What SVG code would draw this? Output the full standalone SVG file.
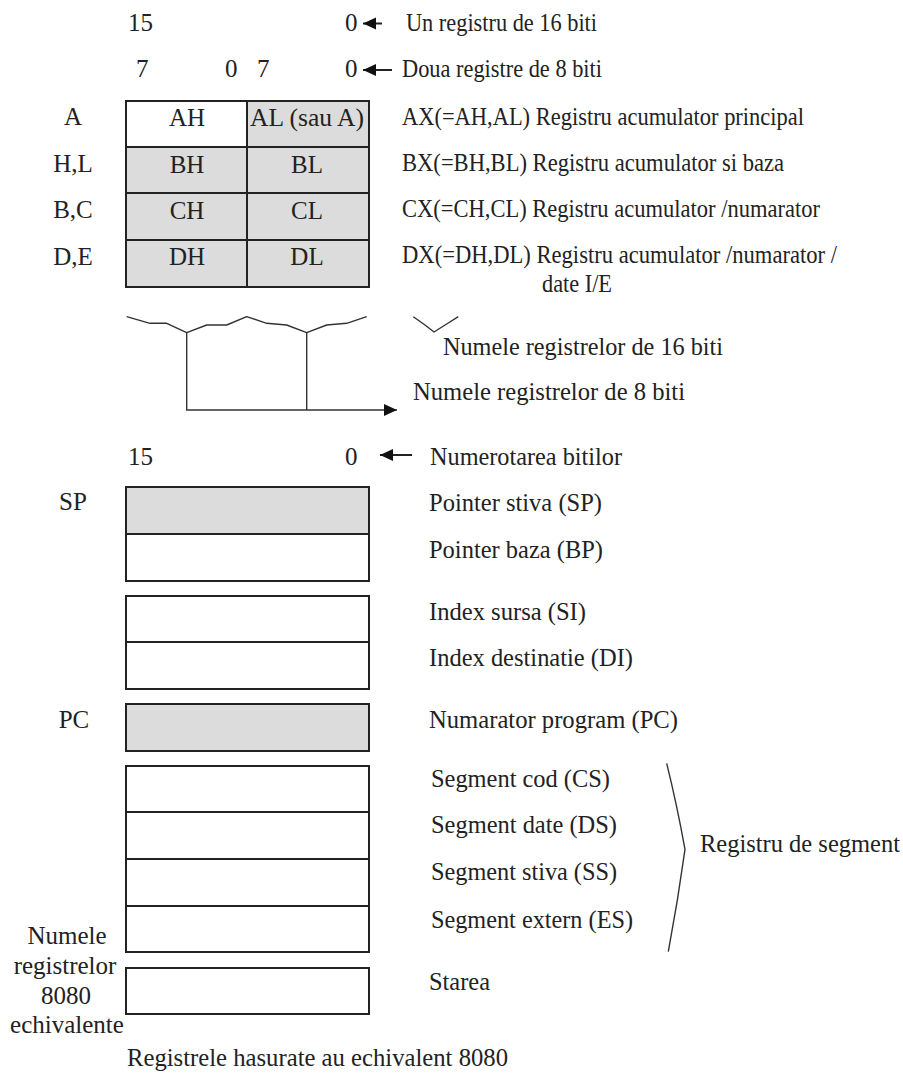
<svg xmlns="http://www.w3.org/2000/svg" width="903" height="1074" viewBox="0 0 903 1074">
<style>
text{font-family:"Liberation Serif","Times New Roman",serif;font-size:25px;fill:#222}
.c{text-anchor:middle}
.box{stroke:#222;stroke-width:2}
.g{fill:#dcdcdc}
.w{fill:#fff}
.ln{fill:none;stroke:#222;stroke-width:2}
.th{fill:none;stroke:#333;stroke-width:1.4;stroke-linejoin:round}
</style>
<defs>
<marker id="ah" viewBox="0 0 13 13" refX="13" refY="6.5" markerWidth="13" markerHeight="13" markerUnits="userSpaceOnUse" orient="auto">
<path d="M0,0.5 L13,6.5 L0,12.5 Z" fill="#111"/>
</marker>
</defs>
<rect width="903" height="1074" fill="#fff"/>

<g id="bit-header">
<text x="128" y="31">15</text>
<text x="345" y="31">0</text>
<text x="406" y="31" textLength="191" lengthAdjust="spacingAndGlyphs">Un registru de 16 biti</text>
<text x="136" y="77">7</text>
<text x="225" y="77">0</text>
<text x="257" y="77">7</text>
<text x="345" y="77">0</text>
<text x="402" y="77" textLength="200" lengthAdjust="spacingAndGlyphs">Doua registre de 8 biti</text>
</g>

<g id="general-registers">
<rect class="box w" x="126" y="101" width="121" height="46"/>
<rect class="box g" x="247" y="101" width="122" height="46"/>
<rect class="box g" x="126" y="147" width="121" height="46"/>
<rect class="box g" x="247" y="147" width="122" height="46"/>
<rect class="box g" x="126" y="193" width="121" height="47"/>
<rect class="box g" x="247" y="193" width="122" height="47"/>
<rect class="box g" x="126" y="240" width="121" height="47"/>
<rect class="box g" x="247" y="240" width="122" height="47"/>
<text class="c" x="187" y="126">AH</text>
<text class="c" x="307" y="126" textLength="114" lengthAdjust="spacingAndGlyphs">AL (sau A)</text>
<text class="c" x="187" y="173">BH</text>
<text class="c" x="307" y="173">BL</text>
<text class="c" x="187" y="219">CH</text>
<text class="c" x="307" y="219">CL</text>
<text class="c" x="187" y="265">DH</text>
<text class="c" x="307" y="265">DL</text>
</g>

<g id="labels-8080-top">
<text class="c" x="73" y="125">A</text>
<text class="c" x="73" y="172">H,L</text>
<text class="c" x="73" y="218">B,C</text>
<text class="c" x="73" y="265">D,E</text>
</g>

<g id="general-descriptions">
<text x="402" y="125" textLength="402" lengthAdjust="spacingAndGlyphs">AX(=AH,AL) Registru acumulator principal</text>
<text x="402" y="171" textLength="382" lengthAdjust="spacingAndGlyphs">BX(=BH,BL) Registru acumulator si baza</text>
<text x="402" y="217" textLength="418" lengthAdjust="spacingAndGlyphs">CX(=CH,CL) Registru acumulator /numarator</text>
<text x="402" y="263" textLength="435" lengthAdjust="spacingAndGlyphs">DX(=DH,DL) Registru acumulator /numarator /</text>
<text x="542" y="292" textLength="70" lengthAdjust="spacingAndGlyphs">date I/E</text>
</g>

<g id="name-legend">
<text x="443" y="355" textLength="280" lengthAdjust="spacingAndGlyphs">Numele registrelor de 16 biti</text>
<text x="413" y="400" textLength="272" lengthAdjust="spacingAndGlyphs">Numele registrelor de 8 biti</text>
<text x="128" y="465">15</text>
<text x="345" y="465">0</text>
<text x="430" y="465" textLength="192" lengthAdjust="spacingAndGlyphs">Numerotarea bitilor</text>
</g>

<g id="pointer-registers">
<rect class="box g" x="126" y="487" width="243" height="47"/>
<rect class="box w" x="126" y="534" width="243" height="47"/>
<rect class="box w" x="126" y="596" width="243" height="46"/>
<rect class="box w" x="126" y="642" width="243" height="47"/>
<rect class="box g" x="126" y="704" width="243" height="47"/>
<text class="c" x="73" y="510">SP</text>
<text class="c" x="74" y="728">PC</text>
<text x="429" y="511" textLength="173" lengthAdjust="spacingAndGlyphs">Pointer stiva (SP)</text>
<text x="429" y="558" textLength="174" lengthAdjust="spacingAndGlyphs">Pointer baza (BP)</text>
<text x="429" y="620" textLength="157" lengthAdjust="spacingAndGlyphs">Index sursa (SI)</text>
<text x="429" y="666" textLength="204" lengthAdjust="spacingAndGlyphs">Index destinatie (DI)</text>
<text x="429" y="728" textLength="249" lengthAdjust="spacingAndGlyphs">Numarator program (PC)</text>
</g>

<g id="segment-registers">
<rect class="box w" x="126" y="766" width="243" height="46"/>
<rect class="box w" x="126" y="812" width="243" height="47"/>
<rect class="box w" x="126" y="859" width="243" height="47"/>
<rect class="box w" x="126" y="906" width="243" height="46"/>
<text x="431" y="787" textLength="179" lengthAdjust="spacingAndGlyphs">Segment cod (CS)</text>
<text x="431" y="833" textLength="186" lengthAdjust="spacingAndGlyphs">Segment date (DS)</text>
<text x="431" y="880" textLength="186" lengthAdjust="spacingAndGlyphs">Segment stiva (SS)</text>
<text x="431" y="928" textLength="202" lengthAdjust="spacingAndGlyphs">Segment extern (ES)</text>
<text x="700" y="852" textLength="200" lengthAdjust="spacingAndGlyphs">Registru de segment</text>
</g>

<g id="status-register">
<rect class="box w" x="126" y="968" width="243" height="46"/>
<text x="429" y="990" textLength="61" lengthAdjust="spacingAndGlyphs">Starea</text>
</g>

<g id="left-note">
<text class="c" x="67" y="944">Numele</text>
<text class="c" x="65" y="974">registrelor</text>
<text class="c" x="66" y="1004">8080</text>
<text class="c" x="67" y="1033">echivalente</text>
</g>

<g id="footer">
<text x="127" y="1066" textLength="381" lengthAdjust="spacingAndGlyphs">Registrele hasurate au echivalent 8080</text>
</g>

<g id="connectors">
<line class="ln" x1="382" y1="23.5" x2="363" y2="23.5" marker-end="url(#ah)"/>
<line class="ln" x1="392" y1="70" x2="363" y2="70" marker-end="url(#ah)"/>
<line class="ln" x1="412" y1="455" x2="380" y2="455" marker-end="url(#ah)"/>
<polyline class="th" points="126.7,316.7 150,323.3 166.7,323.3 186.7,332.7 206.7,325 226.7,325 246.7,316.7 266.7,323.3 286.7,325 306.7,332.7 326.7,325 346.7,323.3 366.7,316.7"/>
<polyline class="th" points="413.3,316.7 425,325 434,332 446.7,324 458.3,316.7"/>
<line class="th" x1="186.7" y1="332.7" x2="186.7" y2="410"/>
<line class="th" x1="306.7" y1="332.7" x2="306.7" y2="410"/>
<line class="th" x1="186" y1="410" x2="397" y2="410" marker-end="url(#ah)"/>
<path class="th" d="M666.7,763.3 Q677,805 685,849.3 Q678,900 668.3,951.7"/>
</g>
</svg>
